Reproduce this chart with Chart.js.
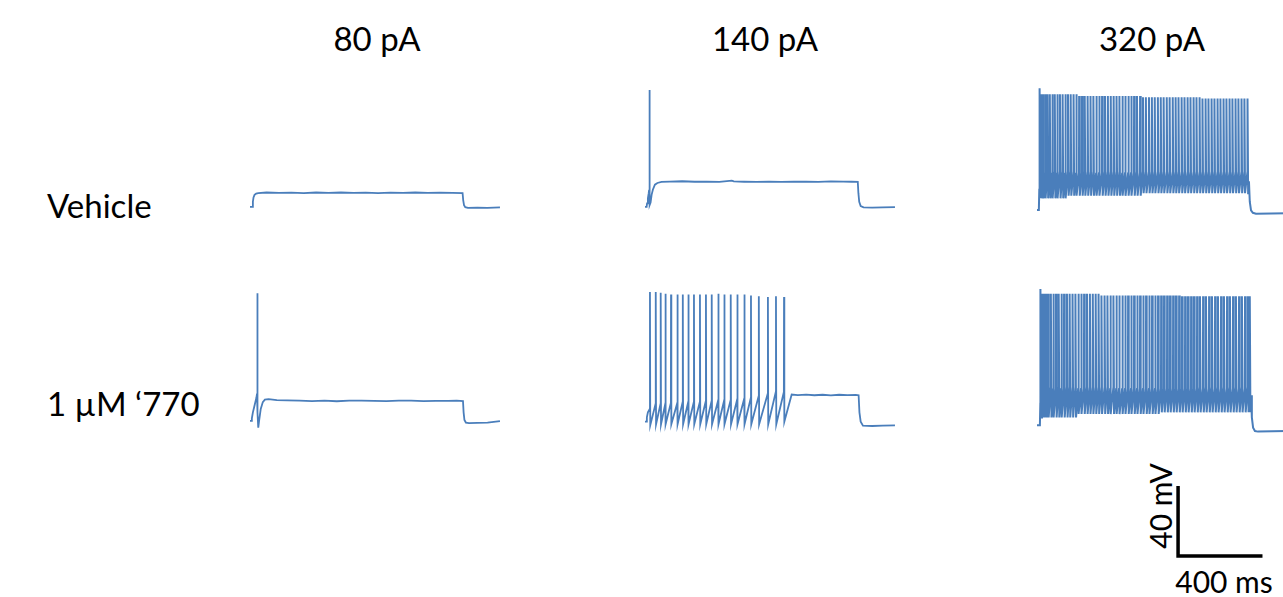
<!DOCTYPE html>
<html>
<head>
<meta charset="utf-8">
<script src="https://cdn.jsdelivr.net/npm/chart.js@4.4.0/dist/chart.umd.min.js"></script>
<style>
  html, body { margin: 0; padding: 0; background: #fff; overflow: hidden; width: 1283px; height: 597px; }
  body { position: relative; font-family: Lato, "Open Sans", sans-serif; color: #000; }
  .lbl { position: absolute; font-size: 33px; line-height: 1; white-space: nowrap; }
  .small { font-size: 30px; }
  .ctr { transform: translate(-50%, -50%); }
  .mid { transform: translateY(-50%); }
  canvas { position: absolute; }
</style>
</head>
<body>
<div class="lbl ctr" style="left:377px; top:38px">80 pA</div>
<div class="lbl ctr" style="left:765px; top:38px">140 pA</div>
<div class="lbl ctr" style="left:1152px; top:38px">320 pA</div>
<div class="lbl mid" style="left:47px; top:205px">Vehicle</div>
<div class="lbl mid" style="left:47px; top:403px">1 µM ‘770</div>
<div class="lbl small ctr" style="left:1160px; top:506px; transform: translate(-50%, -50%) rotate(-90deg)">40 mV</div>
<div class="lbl small ctr" style="left:1224px; top:581px">400 ms</div>

<script>
// scale: 400 ms and 40 mV scale bar
const PX_PER_MS = 0.2066;
const PX_PER_MV = 1.705;
const X_MIN = 0, X_MAX = 1215;   // ms from start of sweep
const Y_MIN = -85, Y_MAX = 14;   // mV
const TRACE_COLOR = '#4a7ebb';

// ---- 80 pA, vehicle (no spikes)
const veh80Time = [0, 12, 14, 17, 22, 30, 40, 80, 140, 200, 260, 320, 380, 440, 500, 560, 620, 680, 740, 800, 860, 920, 980, 1029, 1032, 1036, 1042, 1055, 1100, 1150, 1210];
const veh80Volt = [-65, -65, -62, -59.5, -58, -57.2, -56.9, -56.6, -56.8, -56.7, -56.9, -56.6, -56.8, -56.6, -56.8, -56.7, -56.9, -56.7, -56.8, -56.6, -56.8, -56.7, -56.8, -56.9, -61, -64, -65.2, -65.6, -65.5, -65.6, -65.3];

// ---- 140 pA, vehicle (one spike at onset)
const veh140Time = [0, 8, 10, 14, 18, 20, 21, 22, 24, 27, 32, 38, 48, 60, 80, 120, 180, 240, 300, 360, 420, 430, 480, 540, 600, 660, 720, 780, 840, 900, 960, 1000, 1030, 1033, 1037, 1044, 1058, 1100, 1150, 1210];
const veh140Volt = [-65, -65, -63, -60, -57, -55, 3.5, -35, -64, -62.5, -58, -55, -52, -51, -50.4, -50.2, -50, -50.3, -50.2, -50.4, -49.6, -50.1, -50.3, -50.4, -50.2, -50.4, -50.3, -50.2, -50.4, -50.1, -50.2, -50.3, -50.4, -57, -62, -64.5, -65.3, -65.4, -65.3, -65.2];

// ---- 320 pA, vehicle (tonic firing)
const veh320Spikes = [13, 21, 30, 40, 51, 62, 74, 86, 98, 111, 124, 137, 150, 163, 177, 190, 204, 218, 231, 245, 259, 273, 287, 301, 315, 329, 343, 357, 371, 385, 399, 413, 427, 442, 456, 470, 484, 499, 513, 527, 542, 556, 570, 585, 599, 613, 628, 642, 657, 671, 685, 700, 714, 729, 743, 758, 772, 787, 801, 816, 830, 845, 859, 874, 888, 903, 917, 932, 946, 961, 975, 990, 1004, 1019];
const veh320PeakFrom = [0, 20, 200, 500, 800];
const veh320PeakMv = [4.5, 1, 0, -0.8, -1.5];
const veh320TroughFrom = [0, 150, 500];
const veh320TroughMv = [-60, -58.5, -57];
const veh320Threshold = -45;
const veh320PreTime = [0, 9, 11];
const veh320PreVolt = [-66.8, -66.8, -55];
const veh320PostTime = [1026, 1030, 1036, 1045, 1060, 1210];
const veh320PostVolt = [-50, -62, -67, -68.5, -69, -68.8];

// ---- 80 pA, 1 uM '770 (one spike)
const drug80Time = [0, 7, 9, 14, 20, 26, 31, 34, 35, 36, 37.5, 40, 44, 52, 62, 72, 90, 130, 180, 240, 300, 360, 420, 480, 540, 600, 660, 720, 780, 840, 900, 960, 1000, 1031, 1034, 1038, 1045, 1060, 1100, 1150, 1190, 1210];
const drug80Volt = [-65, -65, -63.5, -60, -57, -54, -51.5, -49, 9.8, -20, -60, -69, -65, -58, -54, -52.6, -52.3, -52.8, -53, -53.1, -53.4, -53.2, -53.5, -53.2, -53.1, -53.3, -53.4, -53.2, -53.1, -53.4, -53.3, -53.3, -53.2, -53.4, -60, -64.5, -66, -66.3, -66.2, -66, -65.4, -65.1];

// ---- 140 pA, 1 uM '770 (train that stops early)
const drug140Spikes = [24, 52, 76, 99, 126, 157, 183, 210, 237, 266, 295, 323, 355, 384, 415, 447, 481, 513, 551, 595, 634, 673];
const drug140Peaks = [10.5, 10.5, 10, 9.5, 9, 9, 9, 9, 9, 9, 9, 9, 9.5, 9, 9, 9, 9, 8.5, 8, 7.5, 8, 7.5];
const drug140Thresholds = [-58, -55, -55, -55, -54.5, -54.5, -54, -54, -54, -54, -53.5, -53.5, -53, -53, -53, -52.5, -52, -51.5, -50.5, -49, -48, -48];
const drug140Troughs = [-67.5, -67, -67, -67, -67, -67, -67, -67, -67, -67, -67, -67, -67, -67, -67, -67, -67, -67, -67, -67, -67, -65.5];
const drug140PreTime = [0, 7, 9, 14];
const drug140PreVolt = [-65.5, -65.5, -63, -60];
const drug140PostTime = [710, 740, 780, 820, 860, 900, 940, 980, 1020, 1034, 1038, 1044, 1055, 1100, 1150, 1210];
const drug140PostVolt = [-49.6, -49.9, -49.6, -50, -49.7, -50.1, -49.7, -49.9, -49.8, -50, -60, -65.5, -67.8, -68, -67.8, -67.7];

// ---- 320 pA, 1 uM '770 (tonic firing)
const drug320Spikes = [17, 25, 34, 44, 55, 67, 79, 92, 105, 118, 131, 145, 158, 172, 186, 200, 214, 228, 242, 256, 270, 284, 298, 312, 327, 341, 355, 370, 384, 398, 413, 427, 441, 456, 470, 485, 499, 514, 528, 543, 557, 572, 586, 601, 615, 630, 644, 659, 673, 688, 702, 717, 731, 746, 760, 775, 789, 804, 818, 833, 847, 862, 876, 891, 905, 920, 934, 949, 963, 978, 992, 1007, 1021, 1030];
const drug320PeakFrom = [0, 20, 300, 700];
const drug320PeakMv = [12.3, 9.5, 8.5, 8];
const drug320TroughFrom = [0, 200, 600];
const drug320TroughMv = [-63, -61, -60];
const drug320Threshold = -46;
const drug320PreTime = [0, 14, 16];
const drug320PreVolt = [-67.5, -67.5, -55];
const drug320PostTime = [1036, 1040, 1046, 1055, 1070, 1210];
const drug320PostVolt = [-50, -63, -69, -71, -71.3, -71];

// scale bar
const scaleBarMs = [0, 0, 400];
const scaleBarMv = [40, 0, 0];

// ------------------------------------------------------------
function toPoints(times, volts) {
  return times.map((t, i) => ({ x: t, y: volts[i] }));
}

// level in effect at time t (step lookup)
function levelAt(t, from, levels) {
  let v = levels[0];
  from.forEach((f, i) => { if (t >= f) v = levels[i]; });
  return v;
}

function spikeTrain(times, peakOf, troughOf, threshOf, fall) {
  const pts = [];
  times.forEach((t, i) => {
    pts.push({ x: t - 0.8, y: threshOf(i, t) });
    pts.push({ x: t, y: peakOf(i, t) });
    pts.push({ x: t + fall, y: troughOf(i, t) });
  });
  return pts;
}

function addTrace(left, top, points, width) {
  const canvas = document.createElement('canvas');
  const w = Math.round((X_MAX - X_MIN) * PX_PER_MS);
  const h = Math.round((Y_MAX - Y_MIN) * PX_PER_MV);
  canvas.width = w;
  canvas.height = h;
  canvas.style.left = left + 'px';
  canvas.style.top = top + 'px';
  canvas.style.width = w + 'px';
  canvas.style.height = h + 'px';
  document.body.appendChild(canvas);

  new Chart(canvas, {
    type: 'line',
    data: {
      datasets: [{
        data: points,
        borderColor: TRACE_COLOR,
        borderWidth: width,
        pointRadius: 0,
        tension: 0,
        fill: false
      }]
    },
    options: {
      responsive: false,
      animation: false,
      devicePixelRatio: 1,
      layout: { padding: 0 },
      scales: {
        x: { type: 'linear', display: false, min: X_MIN, max: X_MAX },
        y: { type: 'linear', display: false, min: Y_MIN, max: Y_MAX }
      },
      plugins: { legend: { display: false }, tooltip: { enabled: false } }
    }
  });
}

const topRow = 79 - (Y_MAX - 10) * PX_PER_MV;
const bottomRow = 293 - (Y_MAX - 10) * PX_PER_MV;

addTrace(250, topRow, toPoints(veh80Time, veh80Volt), 1.8);
addTrace(645, topRow, toPoints(veh140Time, veh140Volt), 1.8);
addTrace(1037, topRow, [
  ...toPoints(veh320PreTime, veh320PreVolt),
  ...spikeTrain(veh320Spikes,
    (i, t) => levelAt(t, veh320PeakFrom, veh320PeakMv),
    (i, t) => levelAt(t, veh320TroughFrom, veh320TroughMv),
    () => veh320Threshold, 3),
  ...toPoints(veh320PostTime, veh320PostVolt)
], 2);

addTrace(250, bottomRow, toPoints(drug80Time, drug80Volt), 1.8);
addTrace(645, bottomRow, [
  ...toPoints(drug140PreTime, drug140PreVolt),
  ...spikeTrain(drug140Spikes,
    i => drug140Peaks[i],
    i => drug140Troughs[i],
    i => drug140Thresholds[i], 1.5),
  ...toPoints(drug140PostTime, drug140PostVolt)
], 1.8);
addTrace(1037, bottomRow, [
  ...toPoints(drug320PreTime, drug320PreVolt),
  ...spikeTrain(drug320Spikes,
    (i, t) => levelAt(t, drug320PeakFrom, drug320PeakMv),
    (i, t) => levelAt(t, drug320TroughFrom, drug320TroughMv),
    () => drug320Threshold, 3),
  ...toPoints(drug320PostTime, drug320PostVolt)
], 2);

// scale bar, drawn on the same ms / mV scales
(function () {
  const xMin = -10, xMax = 440, yMin = -3, yMax = 44;
  const canvas = document.createElement('canvas');
  const w = Math.round((xMax - xMin) * PX_PER_MS);
  const h = Math.round((yMax - yMin) * PX_PER_MV);
  canvas.width = w;
  canvas.height = h;
  canvas.style.left = (1178.3 + xMin * PX_PER_MS) + 'px';
  canvas.style.top = (555.7 - yMax * PX_PER_MV) + 'px';
  canvas.style.width = w + 'px';
  canvas.style.height = h + 'px';
  document.body.appendChild(canvas);
  new Chart(canvas, {
    type: 'line',
    data: {
      datasets: [{
        data: scaleBarMs.map((t, i) => ({ x: t, y: scaleBarMv[i] })),
        borderColor: '#000',
        borderWidth: 3.5,
        pointRadius: 0,
        tension: 0,
        borderJoinStyle: 'miter',
        borderCapStyle: 'square'
      }]
    },
    options: {
      responsive: false,
      animation: false,
      devicePixelRatio: 1,
      scales: {
        x: { type: 'linear', display: false, min: xMin, max: xMax },
        y: { type: 'linear', display: false, min: yMin, max: yMax }
      },
      plugins: { legend: { display: false }, tooltip: { enabled: false } }
    }
  });
})();
</script>
</body>
</html>
